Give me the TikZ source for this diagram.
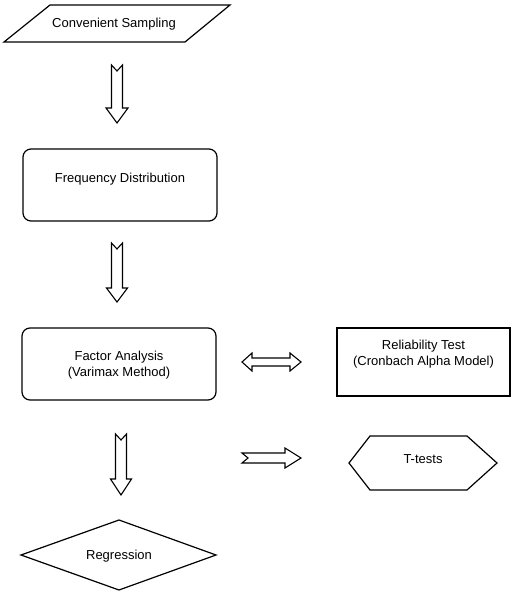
\documentclass[tikz,border=0pt]{standalone}
\usepackage{fontspec}
\setmainfont{Liberation Sans}
\usetikzlibrary{shapes.geometric}
\begin{document}
\begin{tikzpicture}[x=1pt,y=-1pt,
  shp/.style={draw=black,line width=1.2pt,line join=miter},
  rbox/.style={shp,rounded corners=8pt,minimum width=194pt,minimum height=72pt,inner sep=0pt},
  sbox/.style={shp,minimum width=173pt,minimum height=68pt,inner sep=0pt},
  txt/.style={font=\fontsize{13}{15.5}\selectfont,align=center,inner sep=0pt,text=black},
  barrow/.style={draw=black,line width=1.1pt,fill=white,line join=miter}]
\useasboundingbox (0,0) rectangle (512,591);
% Convenient Sampling (parallelogram)
\draw[shp] (50,5) -- (230,5) -- (185,42) -- (4,42) -- cycle;
\node[txt] (cs) at (114,24) {Convenient Sampling};
% arrow 1
\draw[barrow] (111.5,65) -- (117,71) -- (122.5,65) -- (122.5,108) -- (128,108) -- (117,123) -- (106,108) -- (111.5,108) -- cycle;
% Frequency Distribution
\node[rbox] (fd) at (120,185) {};
\node[txt] (fdt) at (120,179) {Frequency Distribution};
% arrow 2
\draw[barrow] (111.5,243) -- (117,249) -- (122.5,243) -- (122.5,288) -- (127.5,288) -- (117,302) -- (106.5,288) -- (111.5,288) -- cycle;
% Factor Analysis
\node[rbox] (fa) at (119,364) {};
\node[txt] (fat) at (119,365) {Factor Analysis\\(Varimax Method)};
% double arrow
\draw[barrow] (242,362) -- (252,353) -- (252,358) -- (290,358) -- (290,353) -- (301,362) -- (290,371) -- (290,366) -- (252,366) -- (252,371) -- cycle;
% Reliability Test
\node[sbox] (rt) at (423.5,362) {};
\node[txt] (rtt) at (423.5,354) {Reliability Test\\(Cronbach Alpha Model)};
% arrow 3
\draw[barrow] (115.5,434) -- (121,440) -- (126.5,434) -- (126.5,479) -- (131.5,479) -- (121,495) -- (110.5,479) -- (115.5,479) -- cycle;
% right arrow
\draw[barrow] (242,453) -- (285,453) -- (285,448) -- (301,458) -- (285,468) -- (285,463) -- (242,463) -- (248,458) -- cycle;
% T-tests hexagon
\draw[shp] (349,463) -- (370,436) -- (467,436) -- (497,463) -- (467,490) -- (370,490) -- cycle;
\node[txt] (tt) at (423,459) {T-tests};
% Regression diamond
\draw[shp] (119,520) -- (216,555) -- (119,590) -- (21,555) -- cycle;
\node[txt] (rg) at (119,556) {Regression};
\end{tikzpicture}
\end{document}
